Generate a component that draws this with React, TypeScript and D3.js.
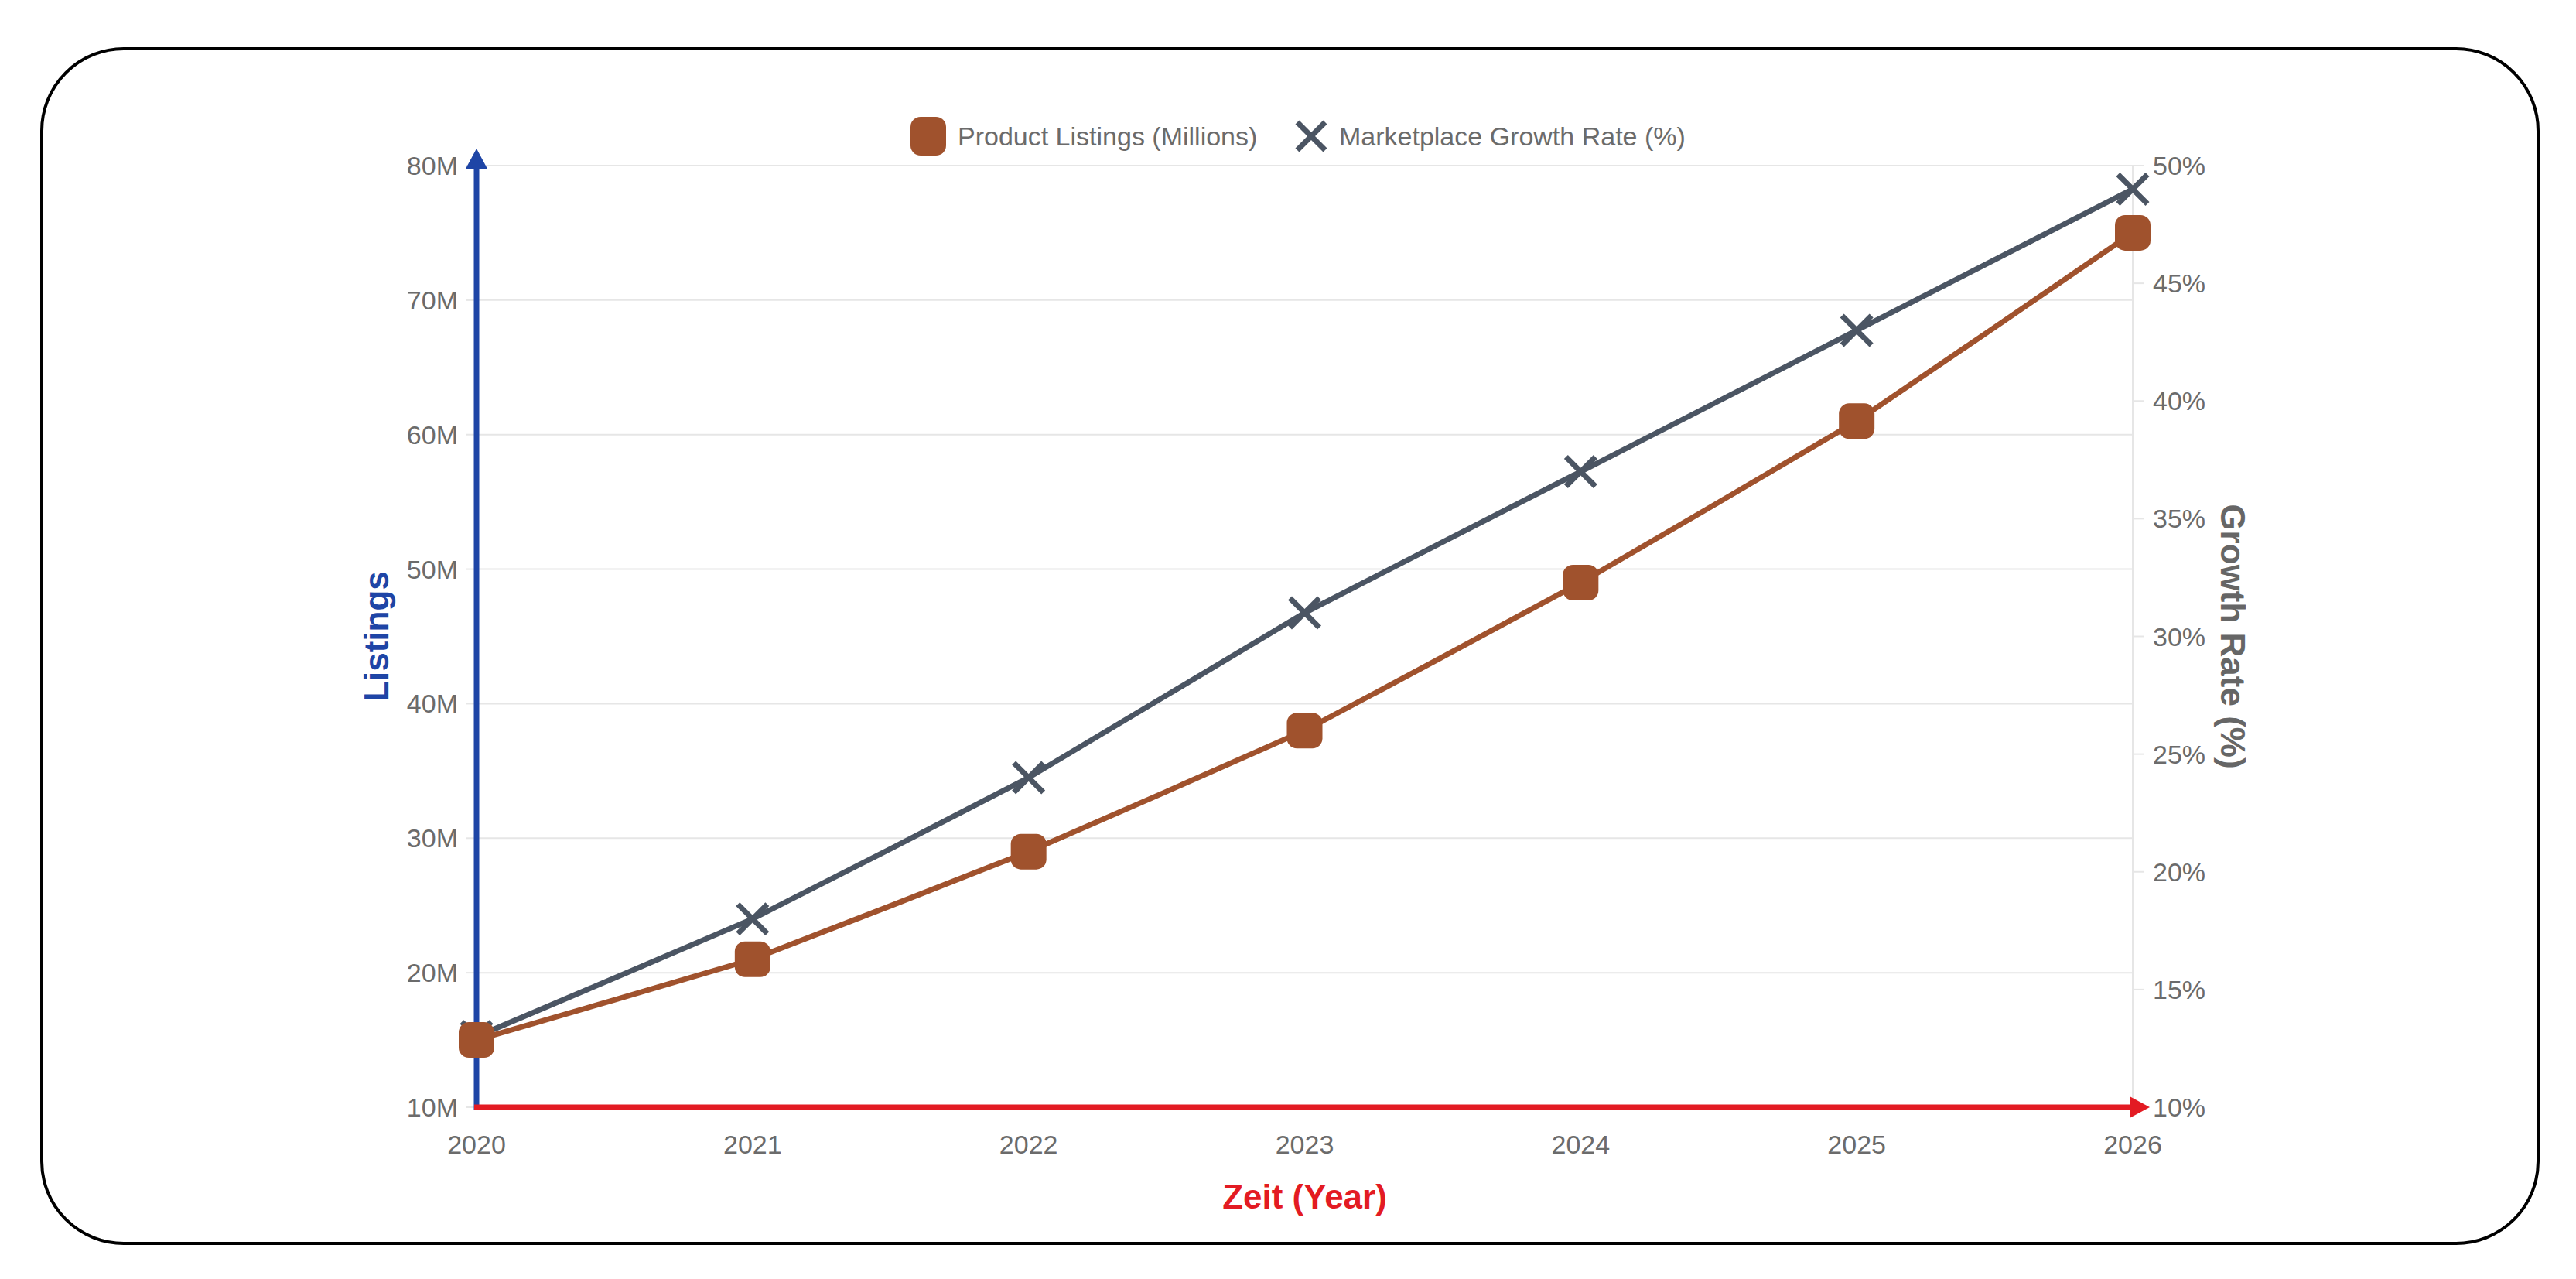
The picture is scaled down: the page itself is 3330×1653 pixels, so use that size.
import React from 'react';
import * as d3 from 'd3';

const years = ['2020', '2021', '2022', '2023', '2024', '2025', '2026'];
const listings = [15, 21, 29, 38, 49, 61, 75]; // millions
const growth = [13, 18, 24, 31, 37, 43, 49]; // percent
const leftTicks = [10, 20, 30, 40, 50, 60, 70, 80];
const rightTicks = [10, 15, 20, 25, 30, 35, 40, 45, 50];

const W = 3330;
const H = 1653;
const margin = { top: 214, right: 573, bottom: 222, left: 616 };
const FONT = '"Liberation Sans", Arial, Helvetica, sans-serif';

const BROWN = '#a0522d';
const SLATE = '#4b5563';
const BLUE = '#1e45a6';
const RED = '#e31b23';
const TICK = '#6b6b6b';
const GRID = '#e6e6e6';

export default function App() {
  const x0 = margin.left;
  const x1 = W - margin.right;
  const y0 = H - margin.bottom;
  const y1 = margin.top;

  const x = d3.scalePoint<string>().domain(years).range([x0, x1]);
  const yL = d3.scaleLinear().domain([10, 80]).range([y0, y1]);
  const yR = d3.scaleLinear().domain([10, 50]).range([y0, y1]);

  const curve = d3.curveCardinal.tension(0.85);
  const listingLine = d3.line<number>()
    .x((_, i) => x(years[i]) ?? 0)
    .y(d => yL(d))
    .curve(curve);
  const growthLine = d3.line<number>()
    .x((_, i) => x(years[i]) ?? 0)
    .y(d => yR(d))
    .curve(curve);

  const sq = 46;
  const xs = 19;
  const cx = (x0 + x1) / 2;

  return (
    <svg width={W} height={H} style={{ position: 'absolute', left: 0, top: 0, background: '#fff' }} fontFamily={FONT}>
      {/* rahmen */}
      <rect x={54} y={63} width={3227} height={1544} rx={106} ry={106} fill="#fff" stroke="#000" strokeWidth={4} />

      {/* legende */}
      <g fontSize={34} fill={TICK}>
        <rect x={1200 - 23} y={176 - 25} width={46} height={50} rx={13} fill={BROWN} />
        <text x={1238} y={176} dominantBaseline="central">Product Listings (Millions)</text>
        <g stroke={SLATE} strokeWidth={7}>
          <line x1={1695 - 18} y1={176 - 18} x2={1695 + 18} y2={176 + 18} />
          <line x1={1695 - 18} y1={176 + 18} x2={1695 + 18} y2={176 - 18} />
        </g>
        <text x={1731} y={176} dominantBaseline="central">Marketplace Growth Rate (%)</text>
      </g>

      {/* gitter */}
      {leftTicks.map(t => (
        <g key={'g' + t}>
          <line x1={x0} x2={x1} y1={yL(t)} y2={yL(t)} stroke={GRID} strokeWidth={2} />
          <line x1={x0 - 14} x2={x0} y1={yL(t)} y2={yL(t)} stroke={GRID} strokeWidth={2} />
          <text x={x0 - 24} y={yL(t)} textAnchor="end" dominantBaseline="central" fontSize={34} fill={TICK}>
            {t}M
          </text>
        </g>
      ))}
      <line x1={x1} x2={x1} y1={y1} y2={y0} stroke={GRID} strokeWidth={2} />
      {rightTicks.map(t => (
        <g key={'r' + t}>
          <line x1={x1} x2={x1 + 14} y1={yR(t)} y2={yR(t)} stroke={GRID} strokeWidth={2} />
          <text x={x1 + 26} y={yR(t)} dominantBaseline="central" fontSize={34} fill={TICK}>
            {t}%
          </text>
        </g>
      ))}
      {years.map(yr => (
        <text key={yr} x={x(yr)} y={y0 + 48} textAnchor="middle" dominantBaseline="central" fontSize={34} fill={TICK}>
          {yr}
        </text>
      ))}

      {/* achsen mit pfeilen */}
      <line x1={x0} x2={x0} y1={y0 + 3} y2={y1} stroke={BLUE} strokeWidth={7} />
      <path d={`M${x0},${y1 - 22} L${x0 - 14},${y1 + 4} L${x0 + 14},${y1 + 4} Z`} fill={BLUE} />
      <line x1={x0 - 3} x2={x1} y1={y0} y2={y0} stroke={RED} strokeWidth={7} />
      <path d={`M${x1 + 22},${y0} L${x1 - 4},${y0 - 14} L${x1 - 4},${y0 + 14} Z`} fill={RED} />

      {/* achsentitel */}
      <text x={cx} y={y0 + 115} textAnchor="middle" dominantBaseline="central" fontSize={44} fontWeight="bold" fill={RED}>
        Zeit (Year)
      </text>
      <text
        transform={`translate(486,${(y0 + y1) / 2}) rotate(-90)`}
        textAnchor="middle"
        dominantBaseline="central"
        fontSize={44}
        fontWeight="bold"
        fill={BLUE}
      >
        Listings
      </text>
      <text
        transform={`translate(2886,${(y0 + y1) / 2}) rotate(90)`}
        textAnchor="middle"
        dominantBaseline="central"
        fontSize={44}
        fontWeight="bold"
        fill="#666"
      >
        Growth Rate (%)
      </text>

      {/* wachstumsrate */}
      <path d={growthLine(growth) ?? ''} fill="none" stroke={SLATE} strokeWidth={7} />
      {growth.map((d, i) => {
        const px = x(years[i]) ?? 0;
        const py = yR(d);
        return (
          <g key={'x' + i} stroke={SLATE} strokeWidth={7}>
            <line x1={px - xs} y1={py - xs} x2={px + xs} y2={py + xs} />
            <line x1={px - xs} y1={py + xs} x2={px + xs} y2={py - xs} />
          </g>
        );
      })}

      {/* listings */}
      <path d={listingLine(listings) ?? ''} fill="none" stroke={BROWN} strokeWidth={7} />
      {listings.map((d, i) => (
        <rect
          key={'s' + i}
          x={(x(years[i]) ?? 0) - sq / 2}
          y={yL(d) - sq / 2}
          width={sq}
          height={sq}
          rx={13}
          fill={BROWN}
        />
      ))}
    </svg>
  );
}
